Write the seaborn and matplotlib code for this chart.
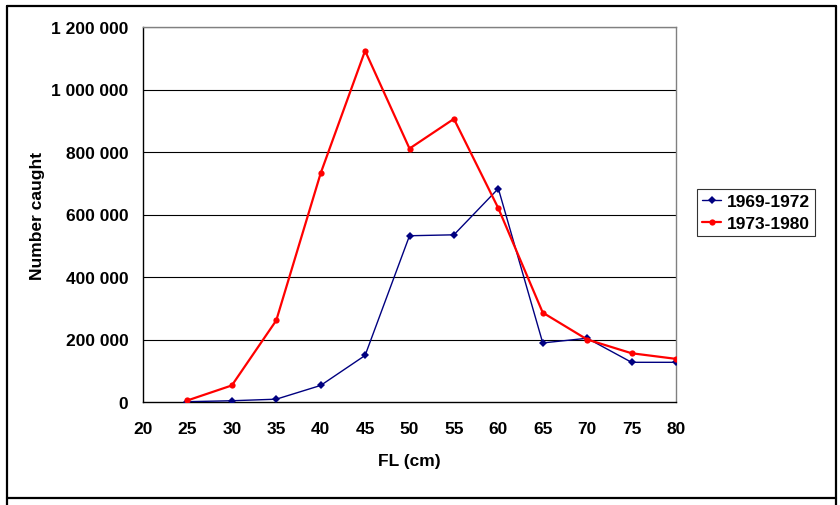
import matplotlib
matplotlib.use("Agg")
import matplotlib.pyplot as plt
import matplotlib.ticker as mticker
from matplotlib.lines import Line2D
import pandas as pd
import seaborn as sns

# Data
fl_cm = [25, 30, 35, 40, 45, 50, 55, 60, 65, 70, 75, 80]
caught_1969_1972 = [1000, 4000, 9000, 53000, 149000, 532000, 535000, 683000,
                    189000, 204000, 127000, 127000]
caught_1973_1980 = [5000, 53000, 261000, 732000, 1124000, 811000, 906000, 620000,
                    286000, 200000, 156000, 138000]
series_names = ["1969-1972", "1973-1980"]
y_ticks = [0, 200000, 400000, 600000, 800000, 1000000, 1200000]
x_ticks = [20, 25, 30, 35, 40, 45, 50, 55, 60, 65, 70, 75, 80]

df = pd.DataFrame({
    "FL": fl_cm * 2,
    "caught": caught_1969_1972 + caught_1973_1980,
    "period": [series_names[0]] * len(fl_cm) + [series_names[1]] * len(fl_cm),
})

sns.set_style("white")
plt.rcParams["font.family"] = ["Liberation Sans", "DejaVu Sans"]
plt.rcParams["font.weight"] = "bold"
plt.rcParams["text.color"] = "black"
plt.rcParams["axes.labelcolor"] = "black"

fs = 12.5

fig = plt.figure(figsize=(8.4, 5.06), dpi=100)
ax = fig.add_axes([143 / 840, 1 - 403 / 506, 533 / 840, 375 / 506])

# horizontal grid
for v in y_ticks[1:]:
    ax.axhline(v, color="black", lw=0.8, zorder=1)

sns.lineplot(data=df[df.period == series_names[0]], x="FL", y="caught", ax=ax,
             color="#000080", lw=1.0, marker="D", markersize=4,
             markeredgewidth=0, label=series_names[0], zorder=3)
sns.lineplot(data=df[df.period == series_names[1]], x="FL", y="caught", ax=ax,
             color="#FF0000", lw=1.6, marker="o", markersize=4.5,
             markeredgewidth=0, label=series_names[1], zorder=4)

ax.set_xlim(20, 80)
ax.set_ylim(0, 1200000)
ax.set_xticks(x_ticks)
ax.set_yticks(y_ticks)
ax.yaxis.set_major_formatter(
    mticker.FuncFormatter(lambda v, p: f"{int(v):,}".replace(",", " ")))

for s in ["left", "bottom"]:
    ax.spines[s].set_color("black")
    ax.spines[s].set_linewidth(1.0)
for s in ["top", "right"]:
    ax.spines[s].set_color("#808080")
    ax.spines[s].set_linewidth(1.0)

ax.tick_params(axis="both", direction="out", length=4.5, width=0.8,
               colors="black", labelcolor="black", labelsize=fs)
ax.tick_params(axis="x", pad=9.5)
ax.tick_params(axis="y", pad=6)
for lab in ax.get_xticklabels() + ax.get_yticklabels():
    lab.set_fontweight("bold")

ax.set_xlabel("FL (cm)", fontsize=fs, fontweight="bold", color="black")
ax.set_ylabel("Number caught", fontsize=fs, fontweight="bold", color="black")
ax.xaxis.set_label_coords(0.5, -0.136)
ax.yaxis.set_label_coords(-0.183, 0.5)

leg = ax.legend(loc="upper left", bbox_to_anchor=(697 / 840, 1 - 190 / 506),
                bbox_transform=fig.transFigure, frameon=True, fancybox=False,
                prop={"size": fs, "weight": "bold"}, handlelength=1.1,
                handletextpad=0.3, borderpad=0.3, borderaxespad=0,
                labelspacing=0.35)
leg.get_frame().set_edgecolor("black")
leg.get_frame().set_linewidth(0.8)
for t in leg.get_texts():
    t.set_color("black")

# outer chart frame
lw = 1.6
x0, x1 = 7 / 840, 836 / 840
y_top, y_bot = 1 - 7 / 506, 1 - 499 / 506
fig.add_artist(Line2D([x0, x1], [y_top, y_top], color="black", lw=lw))
fig.add_artist(Line2D([x0, x1], [y_bot, y_bot], color="black", lw=lw))
fig.add_artist(Line2D([x0, x0], [y_top, 0], color="black", lw=lw))
fig.add_artist(Line2D([x1, x1], [y_top, 0], color="black", lw=lw))

fig.savefig("out.png", dpi=100)
